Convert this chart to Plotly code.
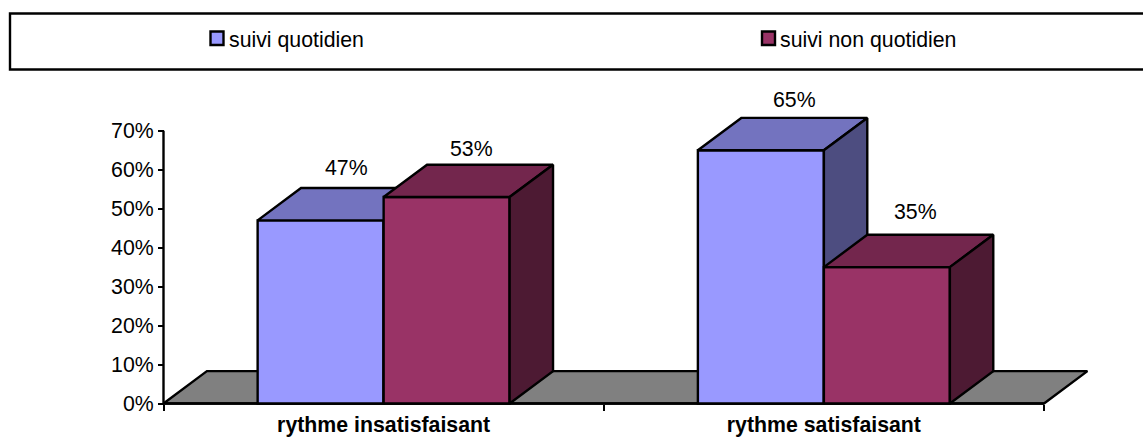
import plotly.graph_objects as go

categories = ["rythme insatisfaisant", "rythme satisfaisant"]
series_names = ["suivi quotidien", "suivi non quotidien"]
quotidien = [47, 65]
non_quotidien = [53, 35]
y_ticks = [0, 10, 20, 30, 40, 50, 60, 70]

FRONT = ["#9999FF", "#993366"]
TOP = ["#7373BF", "#73264D"]
SIDE = ["#4D4D80", "#4D1A33"]
FLOOR = "#808080"
INK = "#000000"
FONT = "Liberation Sans, Arial, sans-serif"
FONT_SIZE = 21.3
STROKE = 2.4

# Oblique depth of the extruded columns, in axis units
DEPTH_X = 0.0986
DEPTH_Y = 8.3
BAR_WIDTH = 0.2862

W, H = 1143, 437
# Pixel box of the plot area; it is larger than the axes so the depth faces fit inside
PLOT_L, PLOT_R, PLOT_T, PLOT_B = 155, 1100, 60, 410
ORIGIN_X, ORIGIN_Y = 163.5, 403.5
PX_PER_CATEGORY = 440.25
PX_PER_PERCENT = 3.896

x_range = [(PLOT_L - ORIGIN_X) / PX_PER_CATEGORY, (PLOT_R - ORIGIN_X) / PX_PER_CATEGORY]
y_range = [(ORIGIN_Y - PLOT_B) / PX_PER_PERCENT, (ORIGIN_Y - PLOT_T) / PX_PER_PERCENT]


def paper_x(px):
    return (px - PLOT_L) / (PLOT_R - PLOT_L)


def paper_y(px):
    return (PLOT_B - px) / (PLOT_B - PLOT_T)


def polygon(xs, ys, color, axes):
    return go.Scatter(
        x=xs + xs[:1], y=ys + ys[:1], mode="lines", fill="toself",
        fillcolor=color, line=dict(color=INK, width=STROKE),
        hoverinfo="skip", showlegend=False, xaxis=axes[0], yaxis=axes[1],
    )


def axis_line(xs, ys):
    return go.Scatter(
        x=xs, y=ys, mode="lines", line=dict(color=INK, width=STROKE),
        hoverinfo="skip", showlegend=False,
    )


def column_traces(values, series_idx, axes):
    # Columns sit side by side either side of the category centre
    centers = [i + 0.5 + (series_idx - 0.5) * BAR_WIDTH for i in range(len(values))]
    traces = [go.Bar(
        x=centers, y=values, width=BAR_WIDTH, name=series_names[series_idx],
        marker=dict(color=FRONT[series_idx], line=dict(color=INK, width=STROKE)),
        showlegend=False, xaxis=axes[0], yaxis=axes[1],
    )]
    for c, v in zip(centers, values):
        x0, x1 = c - BAR_WIDTH / 2, c + BAR_WIDTH / 2
        traces.append(polygon(
            [x0, x1, x1 + DEPTH_X, x0 + DEPTH_X],
            [v, v, v + DEPTH_Y, v + DEPTH_Y], TOP[series_idx], axes))
        traces.append(polygon(
            [x1, x1 + DEPTH_X, x1 + DEPTH_X, x1],
            [v, v + DEPTH_Y, DEPTH_Y, 0], SIDE[series_idx], axes))
    return traces


fig = go.Figure()

# Floor of the chart and the two axis lines, beneath every column
fig.add_trace(polygon(
    [0, 2, 2 + DEPTH_X, DEPTH_X], [0, 0, DEPTH_Y, DEPTH_Y], FLOOR, ("x", "y")))
fig.add_trace(axis_line([0, 0], [0, y_ticks[-1]]))
fig.add_trace(axis_line([0, 2], [0, 0]))
# One overlaid subplot per series keeps the paint order front to back
fig.add_traces(column_traces(quotidien, 0, ("x2", "y2")))
fig.add_traces(column_traces(non_quotidien, 1, ("x3", "y3")))

# Value labels float above the back edge of each column
label_shift = {
    (0, 0): (25.5, 52), (1, 0): (25, 48),
    (0, 1): (34, 50), (1, 1): (28.5, 55),
}
annotations = []
for s, values in enumerate([quotidien, non_quotidien]):
    for c, v in enumerate(values):
        dx, dy = label_shift[(s, c)]
        annotations.append(dict(
            x=c + 0.5 + (s - 0.5) * BAR_WIDTH, y=v, xref="x", yref="y",
            text=f"{v}%", showarrow=False, xshift=dx, yshift=dy,
            font=dict(family=FONT, size=FONT_SIZE, color=INK),
        ))

# Legend band across the top of the figure
legend_shapes = [dict(
    type="rect", xref="paper", yref="paper",
    x0=paper_x(10), x1=paper_x(1160), y0=paper_y(69.5), y1=paper_y(13.5),
    line=dict(color=INK, width=STROKE), fillcolor="white",
)]
for name, color, sx in zip(series_names, FRONT, [210.5, 762]):
    legend_shapes.append(dict(
        type="rect", xref="paper", yref="paper",
        x0=paper_x(sx), x1=paper_x(sx + 13), y0=paper_y(45), y1=paper_y(31.5),
        line=dict(color=INK, width=STROKE), fillcolor=color,
    ))
    annotations.append(dict(
        x=paper_x(sx + 16), y=paper_y(40), xref="paper", yref="paper",
        xanchor="left", yanchor="middle", text=name, showarrow=False,
        font=dict(family=FONT, size=FONT_SIZE, color=INK),
    ))

hidden_x = dict(range=x_range, visible=False, fixedrange=True)
hidden_y = dict(range=y_range, visible=False, fixedrange=True)

fig.update_layout(
    width=W, height=H, autosize=False,
    margin=dict(l=PLOT_L, r=W - PLOT_R, t=PLOT_T, b=H - PLOT_B, pad=0),
    paper_bgcolor="white", plot_bgcolor="rgba(0,0,0,0)", showlegend=False,
    barmode="overlay", shapes=legend_shapes, annotations=annotations,
    font=dict(family=FONT, size=FONT_SIZE, color=INK),
    xaxis=dict(
        range=x_range, anchor="free", position=(PLOT_B - ORIGIN_Y) / (PLOT_B - PLOT_T),
        automargin=False, tickmode="array", tickvals=[0.5, 1.5], ticktext=categories,
        # Invisible major ticks push the category labels clear of the axis
        ticks="outside", ticklen=2, tickcolor="rgba(0,0,0,0)",
        showgrid=False, zeroline=False, showline=False, fixedrange=True,
        tickfont=dict(family=FONT, size=FONT_SIZE, color=INK, weight="bold"),
        minor=dict(tickmode="array", tickvals=[0, 1, 2], ticks="outside",
                   ticklen=6.5, tickwidth=2.4, tickcolor=INK, showgrid=False),
    ),
    yaxis=dict(
        range=y_range, anchor="free", position=(ORIGIN_X - PLOT_L) / (PLOT_R - PLOT_L),
        automargin=False, tickmode="array", tickvals=y_ticks,
        ticktext=[f"{t}%" for t in y_ticks], ticks="outside", ticklen=5.5,
        tickwidth=2.4, tickcolor=INK, showgrid=False, zeroline=False,
        showline=False, fixedrange=True,
        tickfont=dict(family=FONT, size=FONT_SIZE, color=INK),
    ),
    xaxis2=dict(overlaying="x", **hidden_x),
    yaxis2=dict(overlaying="y", **hidden_y),
    xaxis3=dict(overlaying="x", **hidden_x),
    yaxis3=dict(overlaying="y", **hidden_y),
)

fig.write_html("out.html", config={"displayModeBar": False})
